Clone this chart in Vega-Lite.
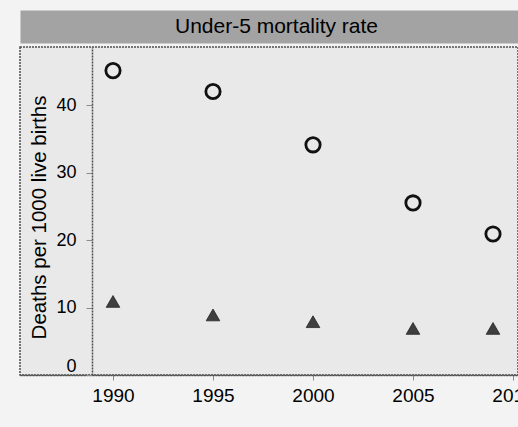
{
  "$schema": "https://vega.github.io/schema/vega-lite/v6.json",
  "width": 498,
  "height": 328,
  "autosize": {"type": "none"},
  "padding": {"left": 20, "top": 47, "right": 0, "bottom": 52},
  "background": "#f3f3f3",
  "config": {
    "view": {"fill": "#e9e9e9", "stroke": "#4d4d4d", "strokeWidth": 1.5, "strokeDash": [2, 1]},
    "font": "Liberation Sans"
  },
  "data": {
    "values": [
      {"year": 1990, "rate_1": 45.1, "rate_2": 10.9},
      {"year": 1995, "rate_1": 42.0, "rate_2": 8.9},
      {"year": 2000, "rate_1": 34.1, "rate_2": 7.9},
      {"year": 2005, "rate_1": 25.5, "rate_2": 6.9},
      {"year": 2009, "rate_1": 20.9, "rate_2": 6.9}
    ]
  },
  "layer": [
    {
      "mark": {"type": "point", "shape": "circle", "filled": false, "size": 205, "strokeWidth": 2.8, "color": "#111111", "opacity": 1},
      "encoding": {
        "x": {
          "field": "year", "type": "quantitative",
          "scale": {"domain": [1985.35, 2010.25], "nice": false, "zero": false},
          "axis": {
            "orient": "bottom", "values": [1990, 1995, 2000, 2005, 2010], "format": "d", "title": null, "grid": false,
            "domainColor": "#4d4d4d", "domainWidth": 1.5, "domainDash": [2, 1],
            "tickColor": "#8c8c8c", "tickSize": 5, "labelFontSize": 19, "labelColor": "#000000",
            "labelPadding": 6, "labelFlush": false, "labelOverlap": false
          }
        },
        "y": {
          "field": "rate_1", "type": "quantitative",
          "scale": {"domain": [0, 48.6], "nice": false, "zero": false},
          "axis": {
            "orient": "left", "offset": -72, "values": [0, 10, 20, 30, 40], "grid": false,
            "title": "Deaths per 1000 live births", "titleFontSize": 20.5, "titleFontWeight": "normal", "titleColor": "#000000",
            "titleX": -47, "titleY": 170, "titleAngle": -90, "titleAlign": "center", "titleBaseline": "alphabetic",
            "labelFontSize": 18, "labelPadding": 10, "tickSize": 6, "tickColor": "#8c8c8c", "labelFlush": true,
            "labelColor": "#000000", "domainColor": "#4d4d4d", "domainWidth": 1.5, "domainDash": [2, 1]
          }
        }
      }
    },
    {
      "mark": {"type": "point", "shape": "triangle-up", "filled": true, "size": 185, "color": "#3f3f3f", "stroke": "#262626", "strokeWidth": 0.8, "opacity": 1},
      "encoding": {
        "x": {
          "field": "year", "type": "quantitative",
          "axis": {
            "orient": "top", "offset": 20.5, "domainWidth": 33, "domainColor": "#a3a3a3", "ticks": false, "labels": false, "grid": false,
            "title": "Under-5 mortality rate", "titleFontSize": 21, "titleFontWeight": "normal", "titleColor": "#000000",
            "titleX": 256, "titleY": 0, "titleBaseline": "middle", "titleAlign": "center", "titleAngle": 0
          }
        },
        "y": {"field": "rate_2", "type": "quantitative"}
      }
    }
  ],
  "resolve": {"axis": {"x": "independent", "y": "shared"}}
}
